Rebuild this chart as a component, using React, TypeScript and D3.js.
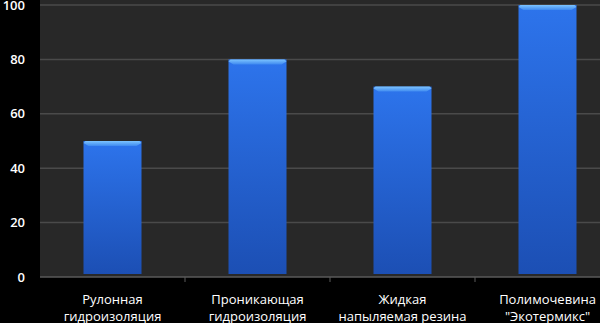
import React from "react";
import * as d3 from "d3";

const categories: string[][] = [
  ["Рулонная", "гидроизоляция"],
  ["Проникающая", "гидроизоляция"],
  ["Жидкая", "напыляемая резина"],
  ["Полимочевина", "\"Экотермикс\""],
];
const values: number[] = [50, 80, 70, 100];
const yTicks: number[] = [0, 20, 40, 60, 80, 100];

const W = 600;
const H = 323;
const left = 40;
const right = 620;
const top = 5;
const bottom = 277;

export default function App() {
  const x = d3
    .scaleBand<number>()
    .domain(values.map((_, i) => i))
    .range([left, right])
    .paddingInner(0.6)
    .paddingOuter(0.3);
  const y = d3.scaleLinear().domain([0, 100]).range([bottom, top]);
  const step = x.step();
  const font = "'Open Sans', sans-serif";

  return (
    <svg width={W} height={H} style={{ position: "absolute", left: 0, top: 0, background: "#000" }}>
      <defs>
        <linearGradient id="barGrad" x1="0" y1="0" x2="0" y2="1">
          <stop offset="0" stopColor="#2d74ec" />
          <stop offset="1" stopColor="#1c4fb4" />
        </linearGradient>
        <linearGradient id="capGrad" x1="0" y1="0" x2="0" y2="1">
          <stop offset="0" stopColor="#7cc4ff" />
          <stop offset="1" stopColor="#3f8af0" />
        </linearGradient>
      </defs>
      <rect x={left} y={0} width={W - left} height={bottom - 0} fill="#282828" />
      {yTicks.map((t) => (
        <g key={t}>
          {t > 0 && (
            <line x1={left} x2={W} y1={y(t)} y2={y(t)} stroke="#4a4a4a" strokeWidth={1.5} />
          )}
          <text
            x={25}
            y={y(t)}
            dy="0.35em"
            textAnchor="end"
            fill="#fff"
            fontFamily={font}
            fontSize={13}
            fontWeight={600}
          >
            {t}
          </text>
        </g>
      ))}
      {values.map((v, i) => {
        const bx = x(i)!;
        const bw = x.bandwidth();
        const by = y(v);
        const bh = bottom - 3 - by;
        return (
          <g key={i}>
            <rect x={bx} y={by} width={bw} height={bh} fill="url(#barGrad)" />
            <path
              d={`M${bx},${by + 2} L${bx + 2},${by} L${bx + bw - 2},${by} L${bx + bw},${by + 2} L${bx + bw - 5},${by + 5} L${bx + 5},${by + 5} Z`}
              fill="url(#capGrad)"
            />
          </g>
        );
      })}
      <line x1={left} x2={W} y1={bottom} y2={bottom} stroke="#5a5a5a" strokeWidth={1.5} />
      {values.slice(1).map((_, i) => {
        const tx = x(i + 1)! - (step - x.bandwidth()) / 2;
        return <line key={i} x1={tx} x2={tx} y1={bottom} y2={bottom + 5} stroke="#5a5a5a" strokeWidth={1} />;
      })}
      {categories.map((lines, i) => {
        const cx = x(i)! + x.bandwidth() / 2;
        return (
          <text key={i} textAnchor="middle" fill="#fff" fontFamily={font} fontSize={13}>
            {lines.map((l, j) => (
              <tspan key={j} x={cx} y={304 + j * 17}>
                {l}
              </tspan>
            ))}
          </text>
        );
      })}
    </svg>
  );
}
